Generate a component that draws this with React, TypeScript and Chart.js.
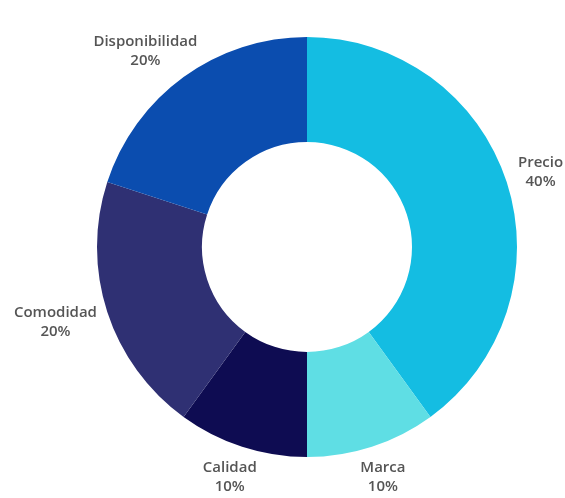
import React, { useEffect, useRef } from "react";
import { Chart, registerables } from "chart.js";

Chart.register(...registerables);

const categories = ["Precio", "Marca", "Calidad", "Comodidad", "Disponibilidad"];
const values = [40, 10, 10, 20, 20];
const valueLabels = ["40%", "10%", "10%", "20%", "20%"];
const colors = ["#14BDE2", "#5FDEE4", "#0E0C52", "#2F3073", "#0B4DAF"];

const outerLabelPlugin = {
  id: "outerLabels",
  afterDraw(chart: any) {
    const ctx = chart.ctx;
    const meta = chart.getDatasetMeta(0);
    const fontSize = 15;
    const lineH = 19;
    ctx.save();
    ctx.font = `600 ${fontSize}px "Open Sans", "Noto Sans", sans-serif`;
    ctx.fillStyle = "#555555";
    ctx.textAlign = "center";
    ctx.textBaseline = "middle";
    meta.data.forEach((arc: any, i: number) => {
      const p = arc.getProps(["x", "y", "startAngle", "endAngle", "outerRadius"], true);
      const mid = (p.startAngle + p.endAngle) / 2;
      const lines = [categories[i], valueLabels[i]];
      const w = Math.max(...lines.map((l) => ctx.measureText(l).width));
      const h = lines.length * lineH;
      const r = p.outerRadius + 13;
      const ax = p.x + Math.cos(mid) * r;
      const ay = p.y + Math.sin(mid) * r;
      const cx = ax + Math.cos(mid) * (w / 2);
      const cy = ay + Math.sin(mid) * (h / 2);
      lines.forEach((l, j) => {
        ctx.fillText(l, cx, cy - h / 2 + lineH / 2 + j * lineH);
      });
    });
    ctx.restore();
  },
};

export default function App() {
  const ref = useRef<HTMLCanvasElement>(null);
  useEffect(() => {
    const chart = new Chart(ref.current!, {
      type: "doughnut",
      data: {
        labels: categories,
        datasets: [
          {
            data: values,
            backgroundColor: colors,
            borderWidth: 0,
          },
        ],
      },
      options: {
        responsive: false,
        animation: false,
        cutout: "50%",
        layout: { padding: { left: 97, right: 48, top: 37, bottom: 41 } },
        plugins: {
          legend: { display: false },
          tooltip: { enabled: false },
        },
      },
      plugins: [outerLabelPlugin],
    });
    return () => chart.destroy();
  }, []);
  return (
    <div style={{ position: "fixed", left: 0, top: 0, width: 565, height: 498, background: "#fff" }}>
      <canvas ref={ref} width={565} height={498} />
    </div>
  );
}
